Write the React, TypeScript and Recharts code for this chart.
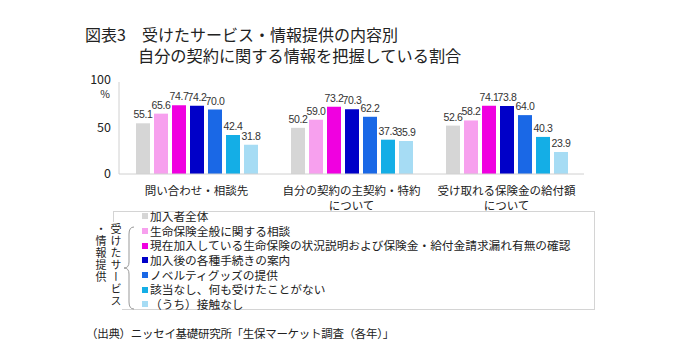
import React from "react";
import { BarChart, Bar, XAxis, YAxis, LabelList } from "recharts";

const categories = ["問い合わせ・相談先", "自分の契約の主契約・特約\nについて", "受け取れる保険金の給付額\nについて"];

const seriesNames = [
  "加入者全体",
  "生命保険全般に関する相談",
  "現在加入している生命保険の状況説明および保険金・給付金請求漏れ有無の確認",
  "加入後の各種手続きの案内",
  "ノベルティグッズの提供",
  "該当なし、何も受けたことがない",
  "（うち）接触なし",
];

const allMembers = [55.1, 50.2, 52.6];
const generalConsult = [65.6, 59.0, 58.2];
const statusCheck = [74.7, 73.2, 74.1];
const procedureGuide = [74.2, 70.3, 73.8];
const noveltyGoods = [70.0, 62.2, 64.0];
const noneReceived = [42.4, 37.3, 40.3];
const noContact = [31.8, 35.9, 23.9];

const yTicks = [0, 50, 100];

const seriesValues = [allMembers, generalConsult, statusCheck, procedureGuide, noveltyGoods, noneReceived, noContact];
const colors = ["#d6d6d6", "#f7a0ee", "#f000e0", "#0000c8", "#1a68e6", "#14aee6", "#a6dcf4"];

const data = categories.map((name, i) => {
  const row: any = { name };
  seriesValues.forEach((vals, s) => {
    row["s" + s] = vals[i];
  });
  return row;
});

const FONT = "'Noto Sans CJK JP', 'Noto Sans', sans-serif";

const CategoryTick = (props: any) => {
  const { x, y, payload } = props;
  const lines = String(payload.value).split("\n");
  return (
    <text x={x} y={y} textAnchor="middle" fontSize={11.5} fill="#222" fontFamily={FONT}>
      {lines.map((l, i) => (
        <tspan key={i} x={x} dy={i === 0 ? 13 : 15}>
          {l}
        </tspan>
      ))}
    </text>
  );
};

const ValueTick = (props: any) => {
  const { x, y, payload } = props;
  return (
    <g>
      <text x={x} y={y} dy={payload.value === 100 ? 2 : 4} textAnchor="end" fontSize={12.5} fill="#222" fontFamily={FONT}>
        {payload.value}
      </text>
      {payload.value === 100 && (
        <text x={x - 1} y={y} dy={16} textAnchor="end" fontSize={10.5} fill="#222" fontFamily={FONT}>
          %
        </text>
      )}
    </g>
  );
};

export default function App() {
  return (
    <div style={{ position: "absolute", left: 0, top: 0, width: 680, height: 361, background: "#fff", fontFamily: FONT, color: "#222" }}>
      <div style={{ position: "absolute", left: 85, top: 24, fontSize: 16, lineHeight: "20px", whiteSpace: "nowrap" }}>
        図表3　受けたサービス・情報提供の内容別
      </div>
      <div style={{ position: "absolute", left: 138, top: 45, fontSize: 16.2, lineHeight: "20px", whiteSpace: "nowrap" }}>
        自分の契約に関する情報を把握している割合
      </div>

      <div style={{ position: "absolute", left: 0, top: 0 }}>
        <BarChart width={680} height={230} data={data} margin={{ top: 82, right: 96, left: 79, bottom: 0 }} barSize={14} barGap={4}>
          <XAxis
            dataKey="name"
            interval={0}
            tickLine={false}
            axisLine={{ stroke: "#d0d0d0" }}
            tick={<CategoryTick />}
            height={56}
          />
          <YAxis
            domain={[0, 100]}
            ticks={yTicks}
            width={40}
            tickLine={false}
            axisLine={{ stroke: "#d0d0d0" }}
            tick={<ValueTick />}
          />
          {seriesNames.map((n, s) => (
            <Bar key={n} dataKey={"s" + s} name={n} fill={colors[s]} isAnimationActive={false}>
              <LabelList
                dataKey={"s" + s}
                position="top"
                offset={5}
                formatter={(v: any) => Number(v).toFixed(1)}
                style={{ fontSize: 10.5, fill: "#333", fontFamily: "'Liberation Sans', sans-serif", letterSpacing: -0.4 }}
              />
            </Bar>
          ))}
        </BarChart>
      </div>

      {/* legend */}
      <div style={{ position: "absolute", left: 113, top: 211, width: 482, height: 99, border: "1px solid #d4d4d4", boxSizing: "border-box" }} />
      <div style={{ position: "absolute", left: 106, top: 222, width: 16, height: 92, background: "#fff" }} />
      <div
        style={{
          position: "absolute",
          left: 93,
          top: 223,
          height: 92,
          writingMode: "vertical-rl",
          fontSize: 11,
          lineHeight: "15px",
          letterSpacing: 1,
          whiteSpace: "nowrap",
        }}
      >
        受けたサービス
        <br />
        ・情報提供
      </div>
      <svg style={{ position: "absolute", left: 123, top: 224 }} width={14} height={90}>
        <path d="M11 3 Q6 3 6 10 L6 38 Q6 44 1 44 Q6 44 6 50 L6 78 Q6 85 11 85" fill="none" stroke="#999" strokeWidth={1} />
      </svg>
      <div style={{ position: "absolute", left: 142, top: 209 }}>
        {seriesNames.map((n, s) => (
          <div key={n} style={{ display: "flex", alignItems: "center", height: 14.7, fontSize: 11.7, lineHeight: "14.7px", whiteSpace: "nowrap" }}>
            <span style={{ display: "inline-block", width: 6, height: 6, background: colors[s], marginRight: 2 }} />
            {n}
          </div>
        ))}
      </div>

      <div style={{ position: "absolute", left: 86, top: 324, fontSize: 11.5, letterSpacing: -0.3, lineHeight: "18px", whiteSpace: "nowrap" }}>
        （出典）ニッセイ基礎研究所「生保マーケット調査（各年）」
      </div>
    </div>
  );
}
